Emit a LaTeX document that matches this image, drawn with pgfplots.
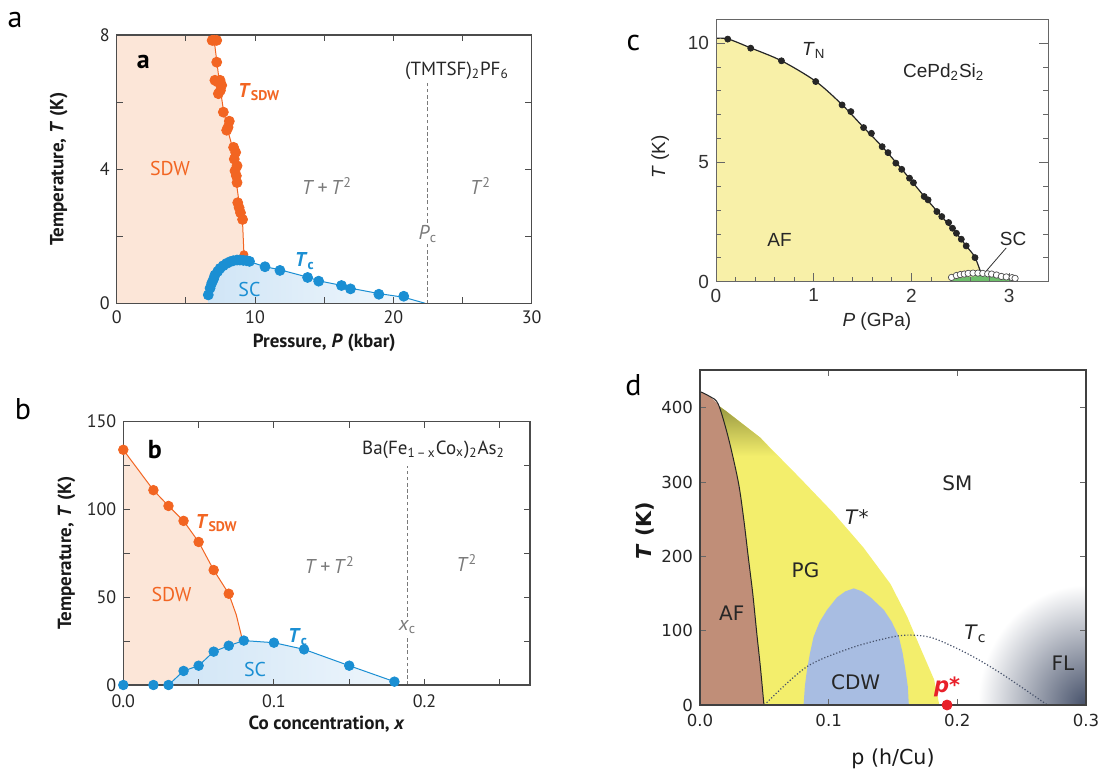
\documentclass[border=0pt]{standalone}
\usepackage{pgfplots}
\pgfplotsset{compat=1.18}
\usepackage{fontspec}
\setmainfont{PT Sans}
\newfontfamily\arialf{Liberation Sans}
\newfontfamily\dejavu{DejaVu Sans}
\definecolor{orng}{HTML}{F26522}
\definecolor{blu}{HTML}{1B8FD3}
\definecolor{peach}{HTML}{FCE6D8}
\definecolor{lblue}{HTML}{D0E5F6}
\definecolor{gtxt}{HTML}{7A7A7A}
\definecolor{cyel}{HTML}{F8F0A8}
\definecolor{cgreen}{HTML}{6DBE6A}
\definecolor{pgyel}{HTML}{F3EE6C}
\definecolor{pgolive}{HTML}{7F8035}
\definecolor{afbrown}{HTML}{C08E78}
\definecolor{cdw}{HTML}{A8BDE2}
\definecolor{fl}{HTML}{46516A}
\definecolor{pred}{HTML}{E8202A}

\pgfplotsset{
 panelab/.style={scale only axis, axis on top, anchor=south west,
   tick align=inside, axis line style={draw=black!70,line width=0.65pt},
   tick style={draw=black!70,line width=0.5pt},
   major tick length=3.2pt, minor tick length=3.2pt,
   tick label style={font=\fontsize{9}{10}\selectfont, text=black!85},
   /pgf/number format/assume math mode=true,
   label style={font=\fontsize{9.5}{11}\selectfont\bfseries, text=black!90},
   xlabel style={at={(axis description cs:0.5,-0.148)},anchor=center},
   ylabel style={at={(axis description cs:-0.14,0.5)},anchor=center},
 },
}

\begin{document}
\begin{tikzpicture}
\useasboundingbox (0,0) rectangle (551pt,387.5pt);
\node[font=\fontsize{15}{15}\selectfont] at (7.5pt,377.5pt) {a};
\node[font=\fontsize{15}{15}\selectfont] at (11.5pt,183pt) {b};
\node[font=\fontsize{15}{15}\selectfont] at (316.7pt,365.8pt) {c};
\node[font=\fontsize{15}{15}\selectfont] at (316.7pt,195pt) {d};

% ---------------- panel a ----------------
\begin{axis}[panelab, at={(58.35pt,235.85pt)}, width=207.5pt, height=134.15pt,
 xmin=0,xmax=30,ymin=0,ymax=8, xtick={0,10,20,30}, ytick={0,4,8},
 minor xtick={5,15,25}, minor ytick={2,6},
 xlabel={Pressure, \textit{P} (kbar)}, ylabel={Temperature, \textit{T} (K)}]
\addplot[fill=peach, draw=none] coordinates {(0,8)(7.0,8)(7.15,7.5)(7.3,7.0)(7.45,6.5)(7.7,5.8)(8.0,5.2)(8.4,4.6)(8.65,3.6)(8.85,3.0)(9.1,2.4)(9.2,1.45)} \closedcycle;
\addplot[draw=none, left color=lblue, right color=lblue!25] coordinates {(6.6,0)(6.62,0.25)(6.87,0.6)(7.1,0.84)(7.47,1.04)(7.95,1.19)(8.43,1.27)(8.9,1.29)(9.4,1.27)(10.72,1.09)(11.8,1.0)(13.8,0.78)(14.6,0.67)(16.3,0.53)(16.9,0.45)(18.95,0.29)(20.75,0.18)(22.3,0)} \closedcycle;
\addplot[orng, line width=0.5pt] coordinates {(7.0,8)(7.15,7.5)(7.3,7.0)(7.45,6.5)(7.7,5.8)(8.0,5.2)(8.4,4.6)(8.65,3.6)(8.85,3.0)(9.1,2.4)(9.2,1.45)};
\addplot[blu, line width=0.5pt] coordinates {(6.62,0.25)(6.87,0.6)(7.1,0.84)(7.47,1.04)(7.95,1.19)(8.43,1.27)(8.9,1.29)(9.4,1.27)(10.72,1.09)(11.8,1.0)(13.8,0.78)(14.6,0.67)(16.3,0.53)(16.9,0.45)(18.95,0.29)(20.75,0.18)(22.3,0)};
\addplot[gtxt, line width=0.5pt, dash pattern=on 1.8pt off 1.3pt] coordinates {(22.5,0)(22.5,6.65)};
\addplot[only marks, mark=*, mark size=2.5pt, orng, mark options={draw=orng, fill=orng}] coordinates {
(6.9,7.84)(7.05,7.84)(7.23,7.84)(7.23,7.19)(7.1,6.65)(7.3,6.6)(7.47,6.65)(7.59,6.5)(7.35,6.25)(7.5,6.35)(7.71,5.7)(8.14,5.43)(7.95,5.16)(8.05,5.25)(8.45,4.65)(8.6,4.5)(8.5,4.3)(8.7,4.1)(8.55,3.95)(8.65,3.8)(8.7,3.6)(8.75,3.0)(8.85,2.85)(8.95,2.7)(9.1,2.5)};
\addplot[only marks, mark=*, mark size=2pt, orng, mark options={draw=orng, fill=orng}] coordinates {(9.2,1.45)};
\addplot[only marks, mark=*, mark size=2.5pt, blu, mark options={draw=blu, fill=blu}] coordinates {
(6.62,0.25)(6.75,0.45)(6.87,0.6)(7.0,0.72)(7.1,0.84)(7.3,0.95)(7.47,1.04)(7.7,1.12)(7.95,1.19)(8.2,1.24)(8.43,1.27)(8.7,1.29)(8.9,1.29)(9.15,1.28)(9.4,1.27)(9.6,1.25)(10.72,1.09)(11.8,0.98)(13.8,0.77)(14.6,0.66)(16.25,0.53)(16.9,0.43)(18.95,0.27)(20.75,0.21)};
\node[font=\fontsize{13}{13}\selectfont\bfseries] at (axis cs:1.93,7.2) {a};
\node[font=\fontsize{10}{11}\selectfont\bfseries, text=orng] at (axis cs:10.3,6.3) {\textit{T}\textsubscript{SDW}};
\node[font=\fontsize{10}{11}\selectfont, text=orng] at (axis cs:3.85,4.02) {SDW};
\node[font=\fontsize{10}{11}\selectfont, text=blu] at (axis cs:9.6,0.42) {SC};
\node[font=\fontsize{10}{11}\selectfont\bfseries, text=blu] at (axis cs:13.6,1.25) {\textit{T}\textsubscript{c}};
\node[font=\fontsize{10}{11}\selectfont, text=gtxt] at (axis cs:15.2,3.5) {\textit{T}\,+\,\textit{T}\textsuperscript{2}};
\node[font=\fontsize{10}{11}\selectfont, text=gtxt] at (axis cs:26.3,3.5) {\textit{T}\textsuperscript{2}};
\node[font=\fontsize{10}{11}\selectfont, text=gtxt, fill=white, inner sep=1pt] at (axis cs:22.5,2.08) {\textit{P}\textsubscript{c}};
\node[font=\fontsize{9.5}{11}\selectfont, text=black!85] at (axis cs:24.6,6.94) {(TMTSF)\textsubscript{2}PF\textsubscript{6}};
\end{axis}

% ---------------- panel b ----------------
\begin{axis}[panelab, at={(61.65pt,45pt)}, width=203.35pt, height=131.65pt,
 xmin=0,xmax=0.27,ymin=0,ymax=150, xtick={0,0.1,0.2}, xticklabels={0.0,0.1,0.2}, ytick={0,50,100,150},
 minor xtick={0.05,0.15,0.25}, minor ytick={25,75,125},
 xticklabel style={yshift=-1.5pt},
 xlabel={Co concentration, \textit{x}}, ylabel={Temperature, \textit{T} (K)},
 xlabel style={at={(axis description cs:0.5,-0.148)}}]
\addplot[fill=peach, draw=none] coordinates {(0,134)(0.02,111)(0.03,102)(0.04,93.5)(0.05,81.5)(0.06,65.5)(0.07,52)(0.075,40)(0.079,26)} \closedcycle;
\addplot[draw=none, left color=lblue, right color=lblue!35] coordinates {(0.03,0)(0.04,8)(0.05,11)(0.06,19)(0.07,22.4)(0.08,25.3)(0.1,24.1)(0.12,20.3)(0.15,11)(0.18,1.9)(0.183,0)} \closedcycle;
\addplot[orng, line width=0.5pt] coordinates {(0,134)(0.02,111)(0.03,102)(0.04,93.5)(0.05,81.5)(0.06,65.5)(0.07,52)(0.075,40)(0.079,26)};
\addplot[blu, line width=0.5pt] coordinates {(0.03,0)(0.04,8)(0.05,11)(0.06,19)(0.07,22.4)(0.08,25.3)(0.1,24.1)(0.12,20.3)(0.15,11)(0.18,1.9)};
\addplot[gtxt, line width=0.5pt, dash pattern=on 1.8pt off 1.3pt] coordinates {(0.1887,0)(0.1887,125)};
\addplot[only marks, mark=*, mark size=2.4pt, orng, mark options={draw=orng, fill=orng}] coordinates {
(0,134)(0.02,111)(0.03,102)(0.04,93.5)(0.05,81.5)(0.06,65.5)(0.07,52)};
\addplot[only marks, mark=*, mark size=2.4pt, blu, mark options={draw=blu, fill=blu}] coordinates {
(0,0)(0.02,0)(0.03,0)(0.04,8)(0.05,11)(0.06,19)(0.07,22.4)(0.08,25.3)(0.1,24.1)(0.12,20.3)(0.15,11)(0.18,1.9)};
\node[font=\fontsize{13}{13}\selectfont\bfseries] at (axis cs:0.021,134) {b};
\node[font=\fontsize{10}{11}\selectfont\bfseries, text=orng] at (axis cs:0.062,92) {\textit{T}\textsubscript{SDW}};
\node[font=\fontsize{10}{11}\selectfont, text=orng] at (axis cs:0.032,51.3) {SDW};
\node[font=\fontsize{10}{11}\selectfont, text=blu] at (axis cs:0.0875,8.9) {SC};
\node[font=\fontsize{10}{11}\selectfont\bfseries, text=blu] at (axis cs:0.116,27.5) {\textit{T}\textsubscript{c}};
\node[font=\fontsize{10}{11}\selectfont, text=gtxt] at (axis cs:0.137,68.3) {\textit{T}\,+\,\textit{T}\textsuperscript{2}};
\node[font=\fontsize{10}{11}\selectfont, text=gtxt] at (axis cs:0.228,69.3) {\textit{T}\textsuperscript{2}};
\node[font=\fontsize{10}{11}\selectfont, text=gtxt, fill=white, inner sep=1pt] at (axis cs:0.1887,33.2) {\textit{x}\textsubscript{c}};
\node[font=\fontsize{9.5}{11}\selectfont, text=black!85] at (axis cs:0.206,133.9) {Ba(Fe\textsubscript{1\,–\,x}Co\textsubscript{x})\textsubscript{2}As\textsubscript{2}};
\end{axis}

% ---------------- panel c ----------------
\begin{axis}[scale only axis, axis on top, anchor=south west, at={(358pt,246.65pt)}, width=166.15pt, height=131.2pt,
 xmin=0,xmax=3.4,ymin=0,ymax=11, xtick={0,1,2,3}, ytick={0,5,10}, minor x tick num=4, minor y tick num=4,
 xtick pos=left,
 tick align=inside, axis line style={draw=black!60, line width=0.5pt}, tick style={draw=black!60, line width=0.45pt},
 major tick length=4.5pt, minor tick length=2.5pt,
 tick label style={font=\arialf\fontsize{9.5}{10}\selectfont, text=black!80},
 /pgf/number format/assume math mode=true,
 label style={font=\arialf\fontsize{9.5}{11}\selectfont, text=black!85},
 xlabel={\textit{P} (GPa)}, ylabel={\textit{T} (K)},
 xlabel style={at={(axis description cs:0.484,-0.152)},anchor=center},
 ylabel style={at={(axis description cs:-0.168,0.476)},anchor=center}]
\addplot[fill=cyel, draw=none] coordinates {(0,10.2)(0.12,10.18)(0.355,9.8)(0.67,9.26)(1.02,8.4)(1.29,7.42)(1.51,6.47)(1.7,5.66)(1.9,4.72)(2.13,3.58)(2.31,2.73)(2.46,2.02)(2.56,1.5)(2.65,1.02)(2.72,0.3)(2.74,0)} \closedcycle;
\addplot[fill=cgreen, draw=none] coordinates {(2.38,0)(2.45,0.12)(2.55,0.2)(2.7,0.24)(2.85,0.2)(2.98,0.12)(3.06,0)} \closedcycle;
\addplot[black!85, line width=0.6pt, smooth] coordinates {(0,10.2)(0.12,10.18)(0.355,9.8)(0.67,9.26)(1.02,8.4)(1.29,7.42)(1.51,6.47)(1.7,5.66)(1.9,4.72)(2.13,3.58)(2.31,2.73)(2.46,2.02)(2.56,1.5)(2.65,1.02)(2.72,0.25)};
\addplot[black!80, line width=0.4pt] coordinates {(2.97,1.42)(2.73,0.28)};
\addplot[only marks, mark=*, mark size=1.5pt, mark options={draw=black!85, fill=black!85}] coordinates {
(0.12,10.17)(0.355,9.79)(0.67,9.26)(1.02,8.39)(1.29,7.41)(1.38,7.13)(1.51,6.46)(1.59,6.22)(1.70,5.66)(1.76,5.41)(1.84,4.97)(1.90,4.71)(1.98,4.34)(2.02,4.15)(2.13,3.57)(2.17,3.43)(2.26,2.94)(2.31,2.73)(2.38,2.48)(2.42,2.24)(2.46,2.03)(2.51,1.78)(2.56,1.50)(2.65,1.01)};
\addplot[only marks, mark=*, mark size=1.6pt, mark options={draw=black!70, fill=white, line width=0.35pt}] coordinates {
(2.41,0.18)(2.46,0.26)(2.5,0.3)(2.54,0.32)(2.58,0.35)(2.63,0.36)(2.68,0.36)(2.73,0.35)(2.78,0.33)(2.82,0.32)(2.87,0.28)(2.92,0.22)(2.97,0.2)(3.03,0.17)(3.06,0.14)};
\node[font=\arialf\fontsize{9.5}{11}\selectfont, text=black!85] at (axis cs:1.0,9.7) {\textit{T}\textsubscript{N}};
\node[font=\arialf\fontsize{9.5}{11}\selectfont, text=black!85] at (axis cs:2.33,8.8) {CePd\textsubscript{2}Si\textsubscript{2}};
\node[font=\arialf\fontsize{9.5}{11}\selectfont, text=black!85] at (axis cs:0.65,1.75) {AF};
\node[font=\arialf\fontsize{9.5}{11}\selectfont, text=black!85] at (axis cs:3.04,1.78) {SC};
\end{axis}

% ---------------- panel d ----------------
\begin{axis}[scale only axis, axis on top, anchor=south west, at={(350pt,35pt)}, width=193pt, height=167.5pt,
 xmin=0,xmax=0.3,ymin=0,ymax=451, xtick={0,0.1,0.2,0.3}, xticklabels={0.0,0.1,0.2,0.3}, ytick={0,100,200,300,400},
 tick align=inside, axis line style={draw=black!75, line width=0.7pt}, tick style={draw=black!60, line width=0.5pt},
 major tick length=3pt,
 tick label style={font=\dejavu\fontsize{8.3}{9}\selectfont, text=black!85},
 xticklabel style={yshift=-1pt},
 /pgf/number format/assume math mode=true,
 label style={font=\dejavu\fontsize{10.3}{12}\selectfont, text=black!90},
 xlabel={p (h/Cu)}, ylabel={\bfseries\textit{T} (K)},
 xlabel style={at={(axis description cs:0.5,-0.16)},anchor=center},
 ylabel style={at={(axis description cs:-0.142,0.52)},anchor=center}]
\begin{scope}
\clip (axis cs:0.2,0) rectangle (axis cs:0.3,250);
\shade[inner color=fl, outer color=white] (axis cs:0.3,0) ellipse [x radius=54pt, y radius=60pt];
\end{scope}
\addplot[fill=pgyel, draw=none] coordinates {(0,421)(0.02,396)(0.0468,360)(0.078,305)(0.104,258)(0.127,212)(0.148,163)(0.161,119)(0.171,78)(0.182,34)(0.186,0)} \closedcycle;
\addplot[draw=none, top color=pgolive, bottom color=pgyel] coordinates {(0,421)(0.02,396)(0.0468,360)(0.06,335)(0,335)} -- cycle;
\addplot[fill=cdw, draw=none] coordinates {(0.0805,0)(0.0815,25)(0.0831,47)(0.0855,70)(0.0883,92)(0.093,112)(0.0987,128)(0.1065,145)(0.113,153)(0.1195,157)(0.126,153)(0.1325,145)(0.1429,128)(0.149,112)(0.1545,92)(0.1575,70)(0.1597,47)(0.1615,25)(0.1623,0)} \closedcycle;
\addplot[fill=afbrown, draw=none] coordinates {(0,422)(0.008,415)(0.0142,405)(0.022,360)(0.0298,300)(0.034,250)(0.0376,198)(0.041,150)(0.0441,97)(0.047,50)(0.0497,0)} \closedcycle;
\addplot[black!85, line width=0.5pt, smooth] coordinates {(0,422)(0.008,415)(0.0142,405)(0.022,360)(0.0298,300)(0.034,250)(0.0376,198)(0.041,150)(0.0441,97)(0.047,50)(0.0497,0)};
\addplot[fl, line width=0.6pt, densely dotted, smooth] coordinates {(0.05,0)(0.083,51.5)(0.1195,78)(0.1506,92)(0.166,94)(0.182,89.6)(0.208,69)(0.234,42.5)(0.27,0)};
\addplot[only marks, mark=*, mark size=2.5pt, mark options={draw=pred, fill=pred}] coordinates {(0.192,0)};
\node[font=\dejavu\fontsize{10}{11}\selectfont, text=black!85] at (axis cs:0.2,298) {SM};
\node[font=\dejavu\fontsize{10}{11}\selectfont, text=black!85] at (axis cs:0.122,253) {\textit{T}*};
\node[font=\dejavu\fontsize{10}{11}\selectfont, text=black!85] at (axis cs:0.082,181) {PG};
\node[font=\dejavu\fontsize{10}{11}\selectfont, text=black!85] at (axis cs:0.0247,123) {AF};
\node[font=\dejavu\fontsize{10}{11}\selectfont, text=black!85] at (axis cs:0.121,31) {CDW};
\node[font=\dejavu\fontsize{10.5}{11}\selectfont\bfseries, text=pred] at (axis cs:0.192,25) {\textit{p}*};
\node[font=\dejavu\fontsize{10}{11}\selectfont, text=black!85] at (axis cs:0.214,96) {\textit{T}\textsubscript{c}};
\node[font=\dejavu\fontsize{10}{11}\selectfont, text=black!85] at (axis cs:0.282,56) {FL};
\end{axis}
\end{tikzpicture}
\end{document}
